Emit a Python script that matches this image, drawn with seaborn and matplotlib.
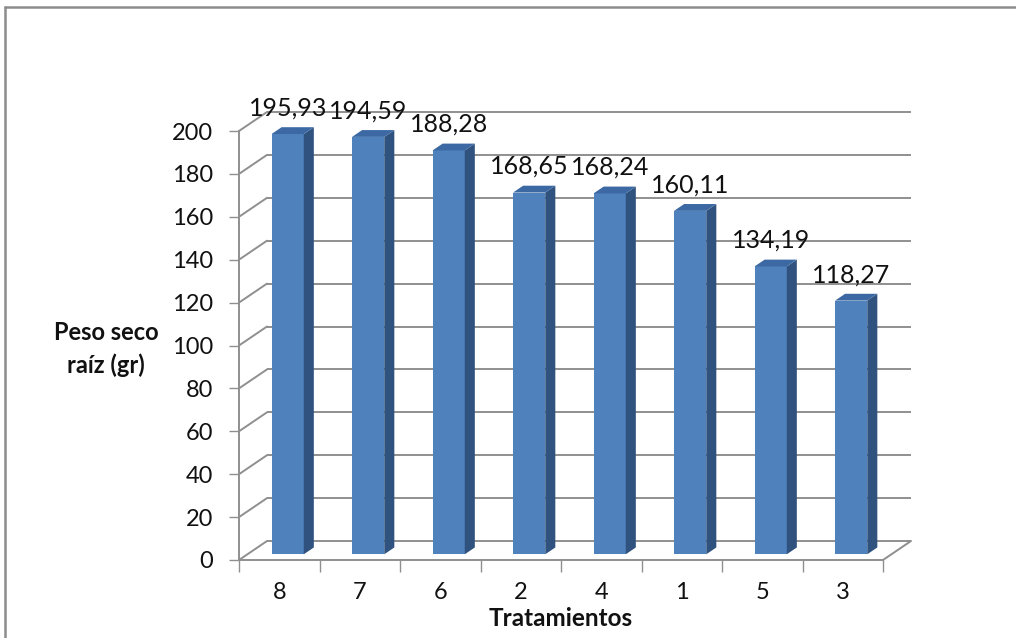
import matplotlib
matplotlib.use("Agg")
import matplotlib.pyplot as plt
from matplotlib.lines import Line2D
import seaborn as sns
import pandas as pd

# Treatments ordered by dry root weight
tratamientos = ["8", "7", "6", "2", "4", "1", "5", "3"]
peso_seco = [195.93, 194.59, 188.28, 168.65, 168.24, 160.11, 134.19, 118.27]
y_ticks = [0, 20, 40, 60, 80, 100, 120, 140, 160, 180, 200]

FRONT = "#4F81BD"
SIDE = "#30527F"
TOP = "#3C69A3"
GRID = "#8f8f8f"
INK = "#111111"

sns.set_theme(style="white")
plt.rcParams["font.family"] = ["Lato", "DejaVu Sans"]

W, H, DPI = 1016, 638, 100
fig = plt.figure(figsize=(W / DPI, H / DPI), dpi=DPI)

# front plane of the 3-D box, in pixels (origin top-left)
x0, x1, y0, y1 = 239, 883, 560, 131
ax = fig.add_axes([x0 / W, (H - y0) / H, (x1 - x0) / W, (y0 - y1) / H])

df = pd.DataFrame({"Tratamiento": tratamientos, "Peso": peso_seco})
sns.barplot(data=df, x="Tratamiento", y="Peso", order=tratamientos,
            color=FRONT, saturation=1, width=0.4, ax=ax, zorder=3,
            edgecolor="none", linewidth=0)

ax.set_xlim(-0.5, len(tratamientos) - 0.5)
ax.set_ylim(0, 200)

# depth vector of the box (pixels -> data units)
px_x = (x1 - x0) / len(tratamientos)
px_y = (y0 - y1) / 200.0
DX, DY = 28 / px_x, 19 / px_y
f_front, f_back = 0.30, 0.66

# shift the bar faces back into the box and add side / top faces
for p in ax.patches:
    bx, bw, bh = p.get_x(), p.get_width(), p.get_height()
    p.set_x(bx + f_front * DX)
    p.set_y(f_front * DY)
    fx, fy = bx + f_front * DX, f_front * DY
    ox, oy = (f_back - f_front) * DX, (f_back - f_front) * DY
    ax.fill([fx + bw, fx + bw + ox, fx + bw + ox, fx + bw],
            [fy, fy + oy, fy + bh + oy, fy + bh],
            color=SIDE, lw=0, zorder=3, clip_on=False)
    ax.fill([fx, fx + bw, fx + bw + ox, fx + ox],
            [fy + bh, fy + bh, fy + bh + oy, fy + bh + oy],
            color=TOP, lw=0, zorder=3, clip_on=False)
    label = f"{bh:.2f}".replace(".", ",")
    ax.annotate(label, xy=(fx + bw / 2, fy + bh), xytext=(0, 18.7),
                textcoords="offset points", ha="center", va="center",
                fontsize=18, color=INK, zorder=5,
                annotation_clip=False)

# back wall and left wall gridlines
xl, xr = -0.5, len(tratamientos) - 0.5
for v in y_ticks:
    ax.plot([xl + DX, xr + DX], [v + DY, v + DY], color=GRID, lw=1.4,
            zorder=1, clip_on=False, solid_capstyle="butt")
    ax.plot([xl, xl + DX], [v, v + DY], color=GRID, lw=1.4,
            zorder=1, clip_on=False)
# floor right edge
ax.plot([xr, xr + DX], [0, DY], color=GRID, lw=1.4, zorder=1, clip_on=False)

# axes lines and ticks
for side in ["top", "right"]:
    ax.spines[side].set_visible(False)
for side in ["left", "bottom"]:
    ax.spines[side].set_color(GRID)
    ax.spines[side].set_linewidth(1.4)
    ax.spines[side].set_zorder(2)

ax.set_yticks(y_ticks)
ax.set_yticklabels([str(v) for v in y_ticks])
ax.tick_params(axis="y", direction="out", length=7.2, width=1.0,
               color=GRID, pad=11.5, labelsize=17, labelcolor=INK,
               left=True)
ax.set_xticks(range(len(tratamientos)))
ax.set_xticklabels(tratamientos)
ax.set_xticks([i - 0.5 for i in range(len(tratamientos) + 1)], minor=True)
ax.tick_params(axis="x", which="major", length=0, pad=16,
               labelsize=17, labelcolor=INK)
ax.tick_params(axis="x", which="minor", direction="out", length=8.6,
               width=1.0, color=GRID, bottom=True)
ax.set_xlabel("")
ax.set_ylabel("")
ax.grid(False)
ax.patch.set_alpha(0)

# axis titles
fig.text(106 / W, 1 - 332 / H, "Peso seco", ha="center", va="center",
         fontsize=17, fontweight="bold", color=INK)
fig.text(106 / W, 1 - 365 / H, "raíz (gr)", ha="center", va="center",
         fontsize=17, fontweight="bold", color=INK)
fig.text(561 / W, 1 - 619 / H, "Tratamientos", ha="center", va="center",
         fontsize=17.5, fontweight="bold", color=INK)

# chart border
fig.add_artist(Line2D([5 / W, 1.0], [1 - 7 / H, 1 - 7 / H], color="#8c8c8c",
                      lw=1.8, transform=fig.transFigure))
fig.add_artist(Line2D([5 / W, 5 / W], [1 - 7 / H, 0.0], color="#8c8c8c",
                      lw=1.8, transform=fig.transFigure))

fig.savefig("out.png", dpi=DPI, facecolor="white")
